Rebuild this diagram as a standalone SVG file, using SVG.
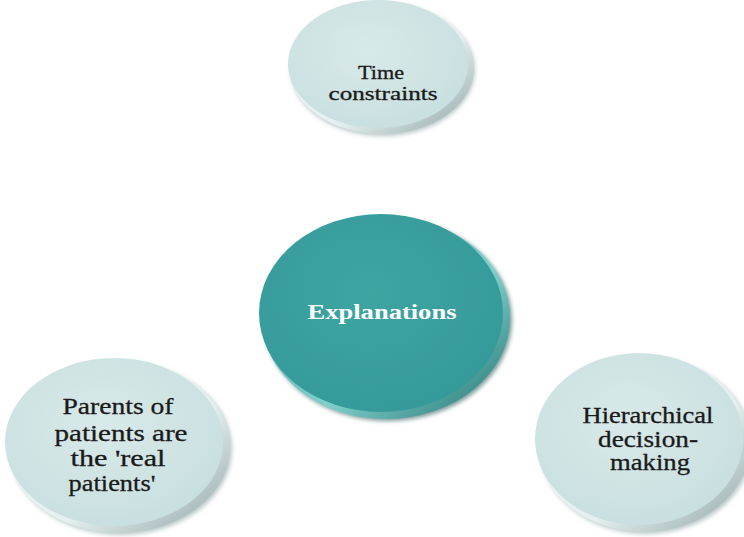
<svg xmlns="http://www.w3.org/2000/svg" width="744" height="537" viewBox="0 0 744 537">
  <defs>
    <radialGradient id="faceLight" cx="45%" cy="40%" r="65%">
      <stop offset="0" stop-color="#d9e9e9"/>
      <stop offset="1" stop-color="#c8dfdf"/>
    </radialGradient>
    <linearGradient id="rimLight" x1="0" y1="0" x2="1" y2="1">
      <stop offset="0" stop-color="#ffffff"/>
      <stop offset="0.6" stop-color="#e4efef"/>
      <stop offset="1" stop-color="#8fa3a3"/>
    </linearGradient>
    <radialGradient id="faceTeal" cx="45%" cy="40%" r="65%">
      <stop offset="0" stop-color="#3ea5a1"/>
      <stop offset="1" stop-color="#35999a"/>
    </radialGradient>
    <linearGradient id="rimTeal" x1="0" y1="0" x2="1" y2="1">
      <stop offset="0" stop-color="#3a9e9a"/>
      <stop offset="0.6" stop-color="#7fd0cc"/>
      <stop offset="1" stop-color="#1f6f6c"/>
    </linearGradient>
    <filter id="soft" x="-10%" y="-10%" width="120%" height="120%">
      <feGaussianBlur stdDeviation="2"/>
    </filter>
  </defs>
  <style>
    .lbl { font-family: "Liberation Serif", "Times New Roman", serif; fill: #1a1a1a; stroke: #1a1a1a; stroke-width: 0.3; text-anchor: middle; }
    .main { font-family: "Liberation Serif", "Times New Roman", serif; fill: #ffffff; text-anchor: middle; font-weight: bold; }
  </style>
  <rect width="744" height="537" fill="#ffffff"/>

  <g id="connectors"></g>

  <g id="node-time">
    <ellipse cx="383" cy="70" rx="92" ry="66" fill="#b9c8c8" filter="url(#soft)"/>
    <ellipse cx="382" cy="68" rx="92" ry="66" fill="url(#rimLight)"/>
    <ellipse cx="378" cy="64" rx="90" ry="64" fill="url(#faceLight)"/>
    <text class="lbl" font-size="19" x="381" y="79" textLength="46" lengthAdjust="spacingAndGlyphs">Time</text>
    <text class="lbl" font-size="19" x="383" y="100" textLength="109" lengthAdjust="spacingAndGlyphs">constraints</text>
  </g>

  <g id="node-explanations">
    <ellipse cx="388" cy="320" rx="124" ry="101" fill="#7a9a99" filter="url(#soft)"/>
    <ellipse cx="386" cy="318" rx="124" ry="101" fill="url(#rimTeal)"/>
    <ellipse cx="381" cy="313" rx="122" ry="99" fill="url(#faceTeal)"/>
    <text class="main" font-size="21" x="382" y="319" textLength="149" lengthAdjust="spacingAndGlyphs">Explanations</text>
  </g>

  <g id="node-parents">
    <ellipse cx="121" cy="449" rx="111" ry="86" fill="#b9c8c8" filter="url(#soft)"/>
    <ellipse cx="119" cy="447" rx="111" ry="86" fill="url(#rimLight)"/>
    <ellipse cx="114" cy="442" rx="109" ry="84" fill="url(#faceLight)"/>
    <text class="lbl" font-size="24" x="118" y="414" textLength="111" lengthAdjust="spacingAndGlyphs">Parents of</text>
    <text class="lbl" font-size="24" x="121" y="441" textLength="133" lengthAdjust="spacingAndGlyphs">patients are</text>
    <text class="lbl" font-size="24" x="118" y="466" textLength="95" lengthAdjust="spacingAndGlyphs">the 'real</text>
    <text class="lbl" font-size="24" x="112" y="491" textLength="87" lengthAdjust="spacingAndGlyphs">patients'</text>
  </g>

  <g id="node-hierarchical">
    <ellipse cx="646" cy="446" rx="106" ry="88" fill="#b9c8c8" filter="url(#soft)"/>
    <ellipse cx="644" cy="444" rx="106" ry="88" fill="url(#rimLight)"/>
    <ellipse cx="639" cy="439" rx="104" ry="86" fill="url(#faceLight)"/>
    <text class="lbl" font-size="23" x="648" y="423" textLength="131" lengthAdjust="spacingAndGlyphs">Hierarchical</text>
    <text class="lbl" font-size="23" x="648" y="447" textLength="100" lengthAdjust="spacingAndGlyphs">decision-</text>
    <text class="lbl" font-size="23" x="650" y="470" textLength="80" lengthAdjust="spacingAndGlyphs">making</text>
  </g>
</svg>
